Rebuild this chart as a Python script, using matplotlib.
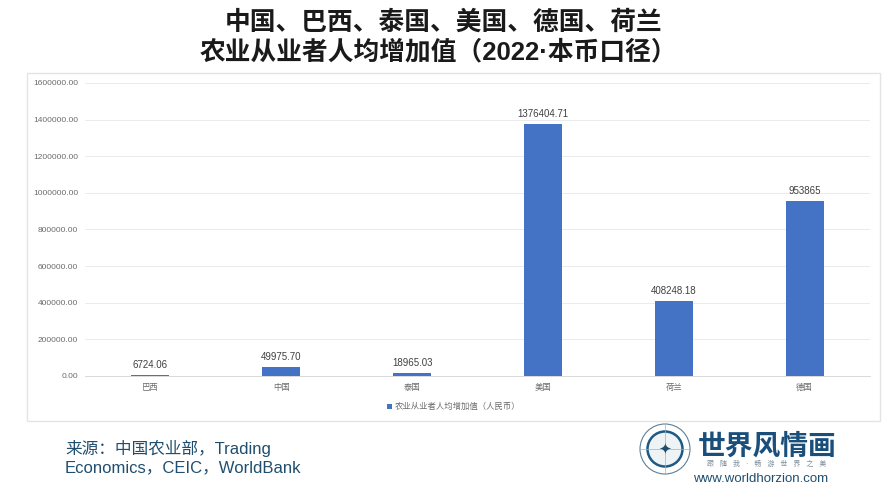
import matplotlib
matplotlib.use('Agg')
import matplotlib.pyplot as plt
from matplotlib.patches import Circle, Rectangle

plt.rcParams['font.family'] = ['Liberation Sans', 'Noto Sans CJK SC', 'DejaVu Sans']

W, H = 889, 500

categories = ['巴西', '中国', '泰国', '美国', '荷兰', '德国']
values = [6724.06, 49975.70, 18965.03, 1376404.71, 408248.18, 953865]
value_labels = ['6724.06', '49975.70', '18965.03', '1376404.71', '408248.18', '953865']
y_ticks = [0, 200000, 400000, 600000, 800000, 1000000, 1200000, 1400000, 1600000]
series_name = '农业从业者人均增加值（人民币）'
title_lines = ['中国、巴西、泰国、美国、德国、荷兰', '农业从业者人均增加值（2022·本币口径）']
source_lines = ['来源：中国农业部，Trading', 'Economics，CEIC，WorldBank']

BLUE = '#4472c4'
GREY = '#6b6b6b'
NAVY = '#1f4e6e'

fig = plt.figure(figsize=(W / 100, H / 100), dpi=100, facecolor='white')

# слой в пикселях для рамки, заголовка и логотипа
bg = fig.add_axes([0, 0, 1, 1])
bg.set_xlim(0, W)
bg.set_ylim(H, 0)
bg.axis('off')

bg.add_patch(Rectangle((27, 73), 853, 348, fc='white', ec='#e4e4e4', lw=1))

bg.text(444, 23, title_lines[0], ha='center', va='center', fontsize=18.5,
        fontweight='bold', color='#1a1a1a')
bg.text(438, 52, title_lines[1], ha='center', va='center', fontsize=18.5,
        fontweight='bold', color='#1a1a1a')

bg.text(65, 448, source_lines[0], ha='left', va='center', fontsize=12, color=NAVY)
bg.text(65, 468, source_lines[1], ha='left', va='center', fontsize=12, color=NAVY)

# логотип
bg.add_patch(Circle((665, 449), 25, fc='white', ec='#5f7f95', lw=0.8))
bg.add_patch(Circle((665, 449), 17.5, fc='#eef3f6', ec='#1f5a85', lw=1.8))
bg.plot([640, 690], [449, 449], color='#9db2c1', lw=0.5)
bg.plot([665, 665], [424, 474], color='#9db2c1', lw=0.5)
bg.text(665, 449, '✦', ha='center', va='center', fontsize=11, color='#1f4e6e',
        family='DejaVu Sans')
bg.text(767, 447, '世界风情画', ha='center', va='center', fontsize=20,
        fontweight='bold', color='#1a4f7c')
bg.text(767, 464, '跟   随   我   ·   畅   游   世   界   之   美', ha='center', va='center',
        fontsize=5, color='#7f8f9a')
bg.text(761, 479, 'www.worldhorzion.com', ha='center', va='center', fontsize=9.5,
        color='#1f4e6e')

# сам график
ax = fig.add_axes([85 / W, 1 - 376 / H, 785 / W, 293 / H])
ax.patch.set_alpha(0)
x = range(len(categories))
ax.bar(x, values, width=0.29, color=BLUE, zorder=3)
ax.set_xlim(-0.5, 5.5)
ax.set_ylim(0, 1600000)
ax.set_yticks(y_ticks)
ax.set_yticklabels([f'{v:.2f}' for v in y_ticks], fontsize=6, color=GREY)
ax.set_xticks(list(x))
ax.set_xticklabels(categories, fontsize=6, color=GREY)
ax.tick_params(length=0)
ax.tick_params(axis='x', pad=5.5)
ax.tick_params(axis='y', pad=5)
ax.grid(axis='y', color='#ebebeb', lw=0.7, zorder=0)
for side in ['top', 'right', 'left']:
    ax.spines[side].set_visible(False)
ax.spines['bottom'].set_color('#d9d9d9')
ax.spines['bottom'].set_linewidth(0.7)

for i, (v, lab) in enumerate(zip(values, value_labels)):
    ax.annotate(lab, (i, v), xytext=(0, 3.5), textcoords='offset points',
                ha='center', va='bottom', fontsize=7, color='#404040')

# легенда
bg.add_patch(Rectangle((387, 404), 5, 5, fc=BLUE, ec='none'))
bg.text(395, 407, series_name, ha='left', va='center', fontsize=6, color=GREY)

fig.savefig('out.png', dpi=100)
